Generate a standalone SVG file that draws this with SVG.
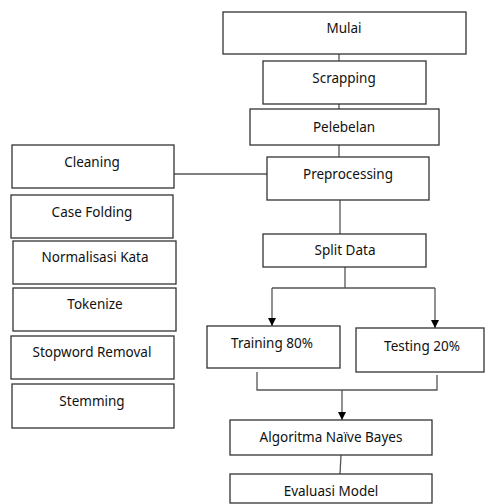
<svg xmlns="http://www.w3.org/2000/svg" width="486" height="504" viewBox="0 0 486 504">
<style>
.box{fill:#fff;stroke:#333;stroke-width:1.3}
.t{font-family:"Noto Sans","Open Sans",sans-serif;font-size:13.5px;fill:#111;text-anchor:middle;dominant-baseline:central}
.c{fill:none;stroke:#555;stroke-width:1.3}
</style>
<defs>
<marker id="ah" viewBox="0 0 10 10" refX="10" refY="5" markerWidth="8" markerHeight="8" markerUnits="userSpaceOnUse" orient="auto">
<path d="M0,0 L10,5 L0,10 z" fill="#000"/>
</marker>
</defs>
<rect width="486" height="504" fill="#fff"/>
<g id="connectors">
<line class="c" x1="339" y1="54" x2="339" y2="61"/>
<line class="c" x1="339" y1="104" x2="339" y2="109"/>
<line class="c" x1="339" y1="145" x2="339" y2="157"/>
<line class="c" x1="173" y1="174" x2="267" y2="174"/>
<line class="c" x1="340" y1="200" x2="340" y2="234"/>
<polyline class="c" points="345,267 345,288"/>
<polyline class="c" points="272,288 435,288"/>
<line class="c" x1="272" y1="288" x2="272" y2="326" marker-end="url(#ah)"/>
<line class="c" x1="435" y1="288" x2="435" y2="328" marker-end="url(#ah)"/>
<polyline class="c" points="257,372 257,390 437,390 437,375"/>
<line class="c" x1="342" y1="390" x2="342" y2="420" marker-end="url(#ah)"/>
<line class="c" x1="341" y1="455" x2="340" y2="474"/>
</g>
<g id="mulai"><rect class="box" x="223" y="12" width="243" height="42"/><text class="t" x="344" y="28">Mulai</text></g>
<g id="scrapping"><rect class="box" x="263" y="61" width="163" height="43"/><text class="t" x="344" y="78">Scrapping</text></g>
<g id="pelebelan"><rect class="box" x="250" y="109" width="189" height="36"/><text class="t" x="344" y="127">Pelebelan</text></g>
<g id="preprocessing"><rect class="box" x="267" y="157" width="162" height="43"/><text class="t" x="348" y="174">Preprocessing</text></g>
<g id="split"><rect class="box" x="263" y="234" width="163" height="33"/><text class="t" x="345" y="250">Split Data</text></g>
<g id="training"><rect class="box" x="207" y="326" width="133" height="42"/><text class="t" x="272" y="343">Training 80%</text></g>
<g id="testing"><rect class="box" x="356" y="328" width="128" height="44"/><text class="t" x="422" y="346">Testing 20%</text></g>
<g id="algoritma"><rect class="box" x="230" y="420" width="202" height="35"/><text class="t" x="331" y="437">Algoritma Naïve Bayes</text></g>
<g id="evaluasi"><rect class="box" x="230" y="474" width="202" height="29"/><text class="t" x="331" y="491">Evaluasi Model</text></g>
<g id="cleaning"><rect class="box" x="12" y="145" width="162" height="43"/><text class="t" x="92" y="162">Cleaning</text></g>
<g id="casefolding"><rect class="box" x="11" y="195" width="162" height="43"/><text class="t" x="92" y="212">Case Folding</text></g>
<g id="normalisasi"><rect class="box" x="13" y="241" width="163" height="43"/><text class="t" x="95" y="257">Normalisasi Kata</text></g>
<g id="tokenize"><rect class="box" x="13" y="288" width="163" height="43"/><text class="t" x="95" y="304">Tokenize</text></g>
<g id="stopword"><rect class="box" x="11" y="336" width="163" height="43"/><text class="t" x="92" y="352">Stopword Removal</text></g>
<g id="stemming"><rect class="box" x="12" y="384" width="162" height="44"/><text class="t" x="92" y="401">Stemming</text></g>
</svg>
